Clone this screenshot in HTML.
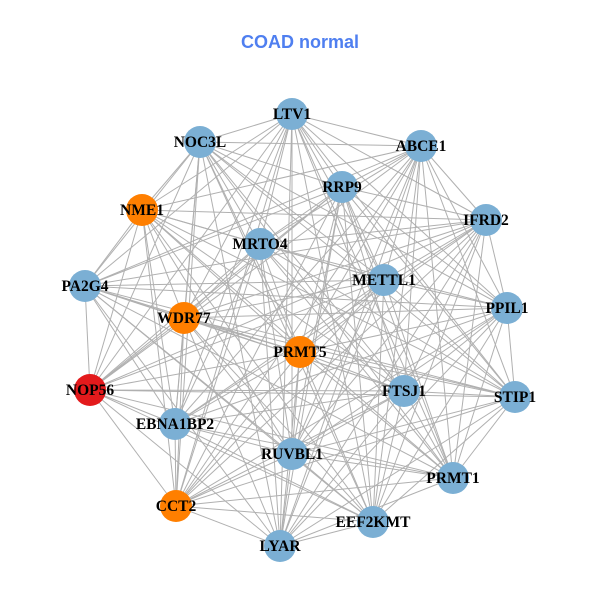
<!DOCTYPE html>
<html><head><meta charset="utf-8"><style>
html,body{margin:0;padding:0;background:#fff;width:600px;height:600px;overflow:hidden}
</style></head><body>
<svg id="s" width="600" height="600" xmlns="http://www.w3.org/2000/svg">
<rect width="600" height="600" fill="#fff"/>
<text x="300" y="48" text-anchor="middle" font-family="Liberation Sans, sans-serif" font-weight="bold" font-size="18" fill="#4f7ff0">COAD normal</text>
<g id="e" stroke="#b0b0b0" stroke-width="1"></g>
<g id="n"></g>
</svg>
<script>
var N=[["LTV1",292,114,"b"],["NOC3L",200,142,"b"],["ABCE1",421,146,"b"],["RRP9",342,187,"b"],["NME1",142,210,"o"],["IFRD2",486,220,"b"],["MRTO4",260,244,"b"],["METTL1",384,280,"b"],["PA2G4",85,286,"b"],["PPIL1",507,308,"b"],["WDR77",184,318,"o"],["PRMT5",300,352,"o"],["NOP56",90,390,"r"],["FTSJ1",404,391,"b"],["STIP1",515,397,"b"],["EBNA1BP2",175,424,"b"],["RUVBL1",292,454,"b"],["PRMT1",453,478,"b"],["CCT2",176,506,"o"],["EEF2KMT",373,522,"b"],["LYAR",280,546,"b"]];
var C={b:"#7bafd4",o:"#ff7f00",r:"#e31a1c"};
var ns="http://www.w3.org/2000/svg",E=document.getElementById("e"),G=document.getElementById("n");
for(var i=0;i<N.length;i++)for(var j=i+1;j<N.length;j++){
 if((i*7+j*3)%11==0)continue;
 var l=document.createElementNS(ns,"line");
 l.setAttribute("x1",N[i][1]);l.setAttribute("y1",N[i][2]);l.setAttribute("x2",N[j][1]);l.setAttribute("y2",N[j][2]);E.appendChild(l);}
N.forEach(function(d){
 var c=document.createElementNS(ns,"circle");c.setAttribute("cx",d[1]);c.setAttribute("cy",d[2]);c.setAttribute("r",16);c.setAttribute("fill",C[d[3]]);G.appendChild(c);
 var t=document.createElementNS(ns,"text");t.setAttribute("x",d[1]);t.setAttribute("y",d[2]+5);t.setAttribute("text-anchor","middle");
 t.setAttribute("font-family","Liberation Serif, serif");t.setAttribute("font-weight","bold");t.setAttribute("font-size","15.5");t.textContent=d[0];G.appendChild(t);});
</script>
</body></html>
